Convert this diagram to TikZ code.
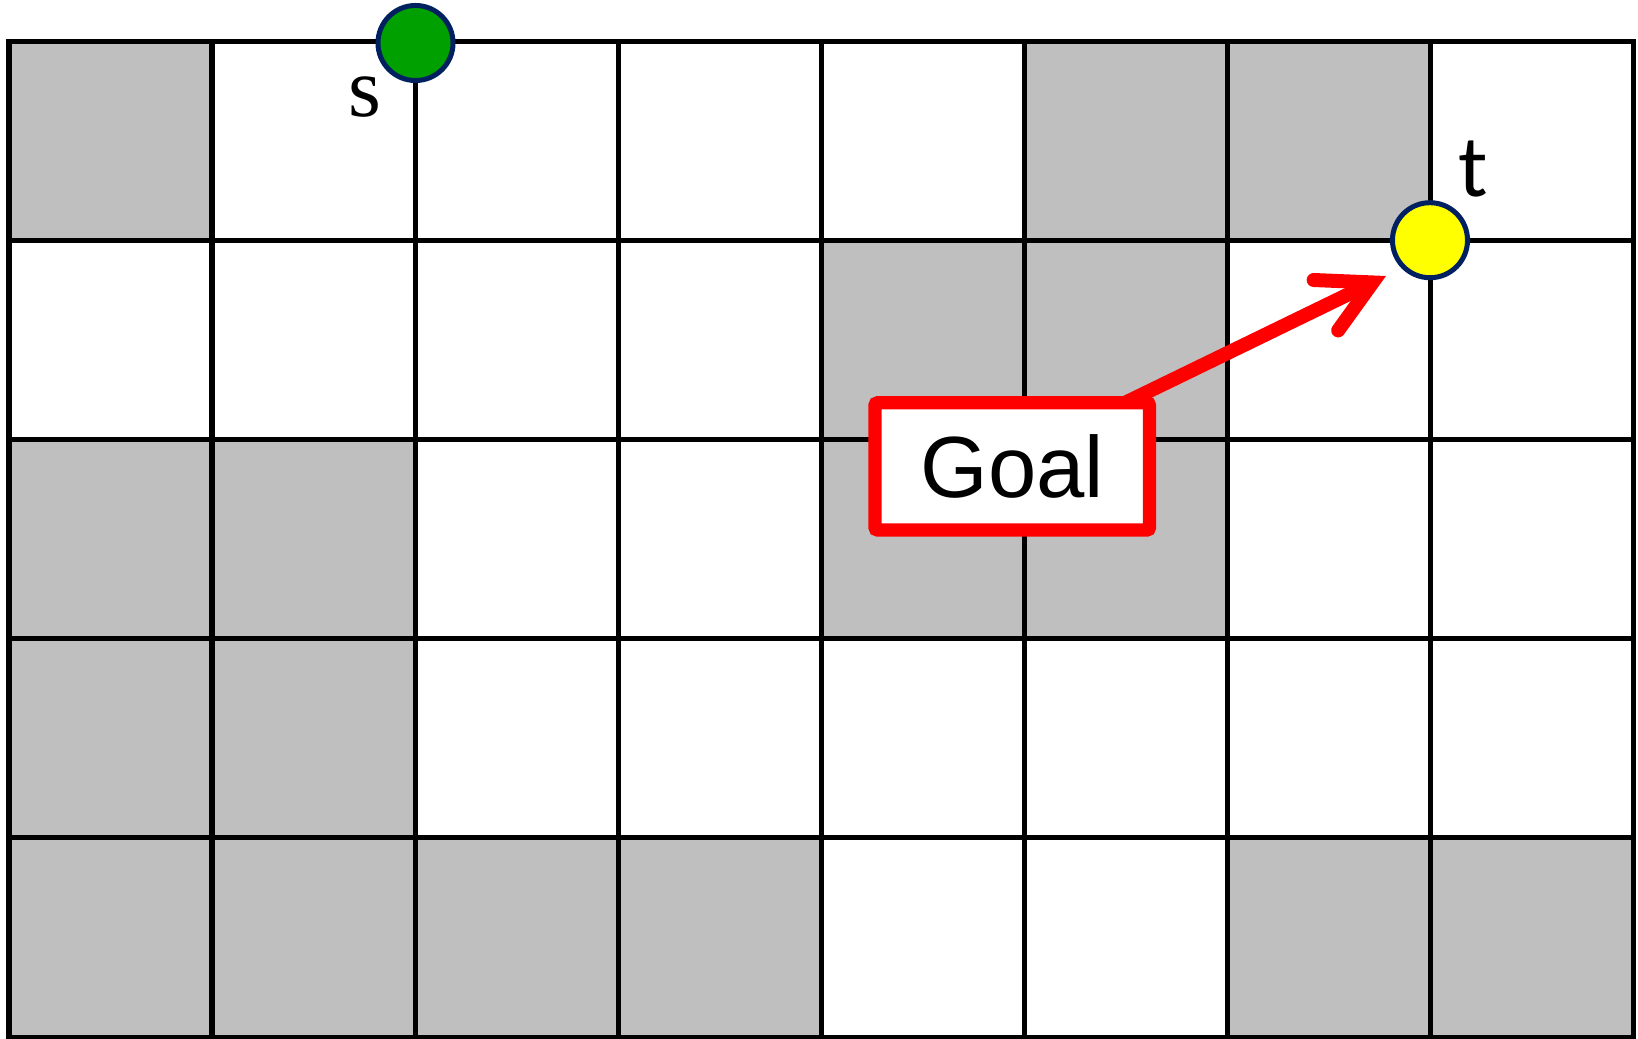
\documentclass[tikz,border=0pt]{standalone}
\usepackage{fontspec}
\setmainfont{Liberation Sans}
\newfontfamily\labelserif{Liberation Serif}
\newfontfamily\labelsans{Carlito}
\usetikzlibrary{arrows.meta}
\definecolor{cellgray}{RGB}{191,191,191}
\definecolor{sgreen}{RGB}{0,160,0}
\definecolor{navy}{RGB}{0,32,96}
\definecolor{tyellow}{RGB}{255,255,0}
\definecolor{goalred}{RGB}{255,0,0}
\tikzset{
  gridline/.style={line width=0.05cm, black, line cap=rect},
  vertex/.style={circle, draw=navy, line width=0.05cm, minimum size=0.75cm, inner sep=0pt},
  goalbox/.style={draw=goalred, fill=white, line width=0.133cm, rounded corners=0.03cm,
    minimum width=2.745cm, minimum height=1.273cm, inner sep=0pt, outer sep=0pt,
    font=\fontsize{24.7}{29}\selectfont},
  pointer/.style={draw=goalred, line width=0.14cm, line cap=butt,
    -{Straight Barb[length=0.52cm, width=0.56cm, line cap=round, line join=miter]}},
  lbl/.style={inner sep=0pt}
}
\begin{document}
\begin{tikzpicture}[x=0.01cm, y=-0.01cm]
\useasboundingbox (0,0) rectangle (1638,1039);
\fill[white] (0,0) rectangle (1638,1039);
% gray cells (column/row)
\foreach \c/\r in {0/0,5/0,6/0, 4/1,5/1, 0/2,1/2,4/2,5/2, 0/3,1/3, 0/4,1/4,2/4,3/4,6/4,7/4}
  \fill[cellgray] ({9+203*\c},{41+199.2*\r}) rectangle ++(203,199.2);
% grid
\foreach \i in {0,...,8}
  \draw[gridline] ({9+203*\i},41) -- ({9+203*\i},1037);
\foreach \j in {0,...,5}
  \draw[gridline] (9,{41+199.2*\j}) -- (1633,{41+199.2*\j});
% vertices
\node[vertex, fill=sgreen] (s) at (415.5,43) {};
\node[vertex, fill=tyellow] (t) at (1430,240.2) {};
\node[lbl] (slab) at (365,97.5) {\labelserif\fontsize{24}{29}\selectfont s};
\node[lbl] (tlab) at (1473.5,169) {\labelsans\fontsize{25}{30}\selectfont t};
% goal box and arrow
\coordinate (tip) at (1386,276);
\node[goalbox] (goal) at (1012.25,466.4) {Goal};
\draw[pointer] ([xshift=1.13cm]goal.north) -- (tip);
\end{tikzpicture}
\end{document}
